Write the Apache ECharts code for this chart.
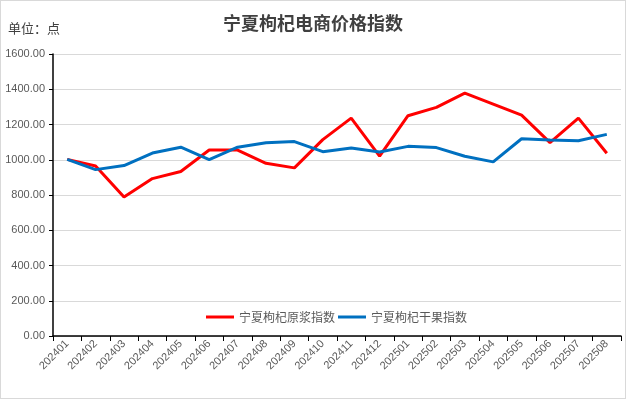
<!DOCTYPE html>
<html><head><meta charset="utf-8">
<script src="https://cdn.jsdelivr.net/npm/echarts@6/dist/echarts.min.js"></script>
<style>html,body{margin:0;padding:0;background:#fff}#c{width:626px;height:399px;box-sizing:border-box;border:1px solid #d9d9d9}</style>
</head><body><div id="c"></div>
<script>
const categories = ['202401','202402','202403','202404','202405','202406','202407','202408','202409','202410','202411','202412','202501','202502','202503','202504','202505','202506','202507','202508'];
const yuanjiang = [1002,965,788,893,933,1055,1055,980,954,1114,1236,1020,1250,1297,1378,1316,1253,1097,1236,1037];
const ganguo = [1002,944,967,1038,1071,1001,1071,1097,1103,1046,1067,1044,1076,1069,1020,988,1119,1112,1108,1144];
const seriesNames = ['宁夏枸杞原浆指数','宁夏枸杞干果指数'];

const chart = echarts.init(document.getElementById('c'), null, {renderer:'canvas'});
chart.setOption({
  animation:false,
  title:{text:'宁夏枸杞电商价格指数', left:'center', top:8,
    textStyle:{fontFamily:'Noto Sans CJK SC', fontSize:18, fontWeight:'bold', color:'#404040'}},
  graphic:[{type:'text', left:7, top:21, style:{text:'单位：点', font:'13px "Noto Sans CJK SC"', fill:'#404040'}}],
  legend:{data:seriesNames, top:305, left:200, itemWidth:28, itemHeight:3, itemGap:3, icon:'rect',
    textStyle:{fontSize:12, color:'#595959', fontFamily:'Noto Sans CJK SC'}},
  grid:{left:52, right:4, top:53, bottom:62, containLabel:false},
  xAxis:{type:'category', data:categories, boundaryGap:true,
    axisLine:{lineStyle:{color:'#000', width:1.5}},
    axisTick:{show:true, length:5, lineStyle:{color:'#000'}},
    axisLabel:{rotate:45, fontSize:11, color:'#595959', fontFamily:'Liberation Sans', margin:6, interval:0}},
  yAxis:{type:'value', min:0, max:1600, interval:200,
    axisLine:{show:true, lineStyle:{color:'#000', width:1.5}},
    axisTick:{show:true, length:4, lineStyle:{color:'#000'}},
    splitLine:{lineStyle:{color:'#d9d9d9'}},
    axisLabel:{fontSize:11, color:'#595959', fontFamily:'Liberation Sans', margin:8,
      formatter:v=>v.toFixed(2)}},
  series:[
    {name:seriesNames[0], type:'line', data:yuanjiang, symbol:'none', lineStyle:{color:'#FF0000', width:3}, itemStyle:{color:'#FF0000'}},
    {name:seriesNames[1], type:'line', data:ganguo, symbol:'none', lineStyle:{color:'#0070C0', width:3}, itemStyle:{color:'#0070C0'}}
  ]
});
</script></body></html>
